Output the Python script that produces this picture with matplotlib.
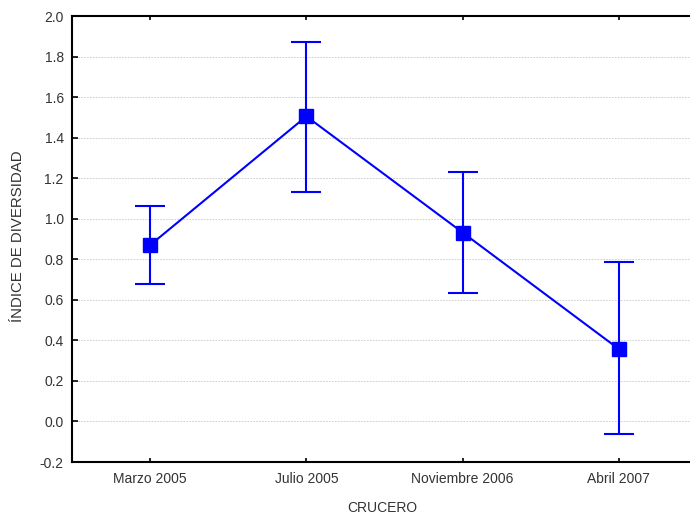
import matplotlib
matplotlib.use("Agg")
import matplotlib.pyplot as plt
import numpy as np

# DATA ##########################################

cruceros = ["Marzo 2005", "Julio 2005", "Noviembre 2006", "Abril 2007"]
media = [0.87, 1.505, 0.932, 0.357]
lim_sup = [1.063, 1.872, 1.229, 0.787]
lim_inf = [0.678, 1.131, 0.632, -0.062]

# SETUP #########################################

plt.rcParams.update({
    "font.family": ["Liberation Sans", "DejaVu Sans"],
    "font.size": 10,
})

fig = plt.figure(figsize=(6.9, 5.16), dpi=100)
ax = fig.add_axes([72 / 690, 54 / 516, 625 / 690, 446 / 516])

x = np.arange(len(cruceros))
media = np.array(media)
yerr = [media - np.array(lim_inf), np.array(lim_sup) - media]

# PLOTTING ######################################

ax.errorbar(
    x, media, yerr=yerr,
    color="#0000ff", linewidth=1.5, elinewidth=1.5,
    capsize=11, capthick=1.5,
    marker="s", markersize=10.5, markeredgecolor="#0000ff",
    markerfacecolor="#0000ff", zorder=3,
)

# AXES ##########################################

ax.set_xlim(-0.5, 3.5)
ax.set_ylim(-0.2, 2.0)
ax.set_yticks(np.arange(-0.2, 2.01, 0.2))
ax.set_yticklabels([f"{v:.1f}" for v in np.arange(-0.2, 2.01, 0.2)])
ax.set_xticks(x)
ax.set_xticklabels(cruceros)

ax.tick_params(axis="y", direction="in", length=4, width=1.2,
               labelcolor="#333333", pad=6)
ax.tick_params(axis="x", direction="in", length=3, width=1.2,
               top=True, labelcolor="#333333", pad=7)

ax.grid(axis="y", linestyle=(0, (2, 1.5)), linewidth=0.6, color="#c8c8c8")
ax.set_axisbelow(True)

for side in ["left", "top", "bottom"]:
    ax.spines[side].set_linewidth(1.5)
    ax.spines[side].set_color("black")
ax.spines["right"].set_visible(False)

# LABELS ########################################

fig.text(382 / 690, 1 - 508 / 516, "CRUCERO", ha="center", va="center",
         color="#333333", fontsize=10)
fig.text(18 / 690, 1 - 236 / 516, "ÍNDICE DE DIVERSIDAD", ha="center",
         va="center", rotation=90, color="#333333", fontsize=10.8)

fig.savefig("out.png", dpi=100)
